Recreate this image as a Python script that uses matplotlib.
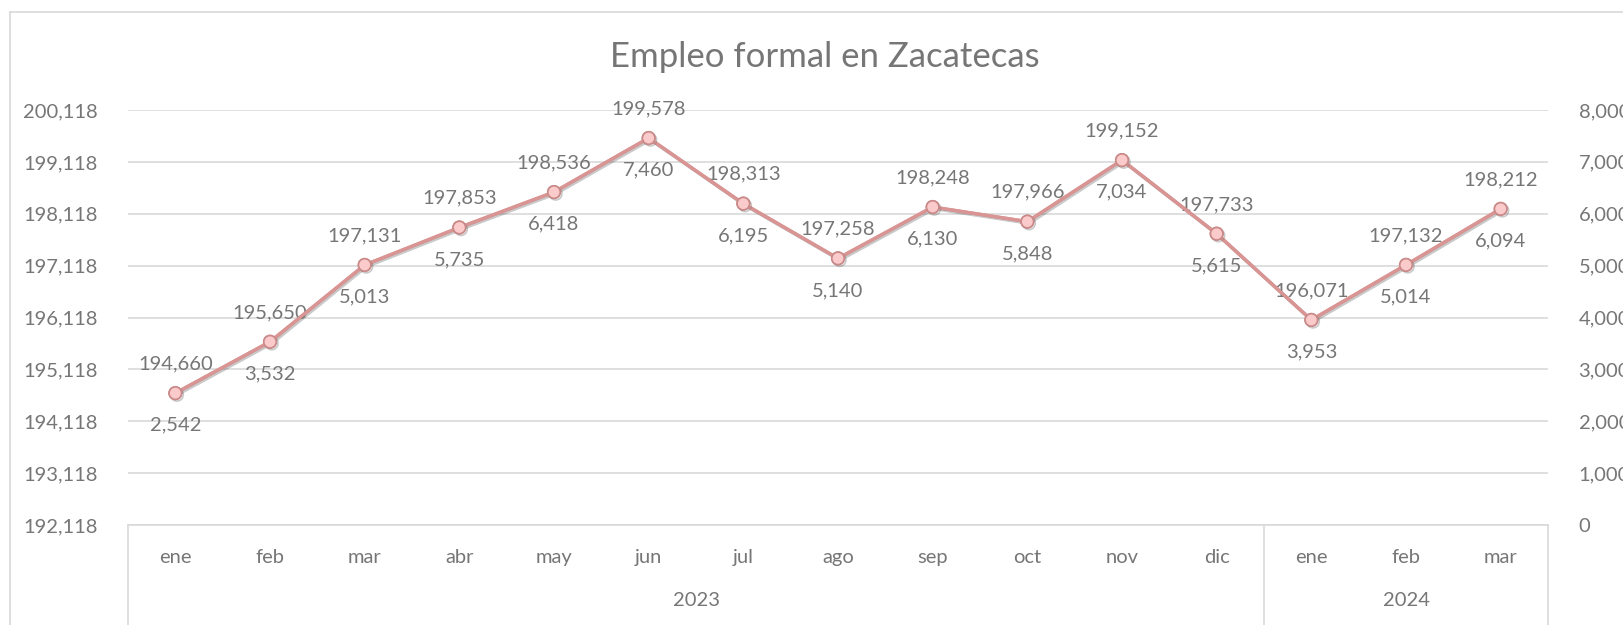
import matplotlib.pyplot as plt
import matplotlib.patheffects as pe
from matplotlib.lines import Line2D
import numpy as np

plt.rcParams['font.family'] = ['Lato', 'DejaVu Sans']

# Data
meses = ['ene', 'feb', 'mar', 'abr', 'may', 'jun', 'jul', 'ago', 'sep', 'oct', 'nov', 'dic',
         'ene', 'feb', 'mar']
anios = ['2023', '2024']
meses_por_anio = [12, 3]
empleo = [194660, 195650, 197131, 197853, 198536, 199578, 198313, 197258, 198248, 197966,
          199152, 197733, 196071, 197132, 198212]
variacion = [2542, 3532, 5013, 5735, 6418, 7460, 6195, 5140, 6130, 5848, 7034, 5615, 3953,
             5014, 6094]

gris = '#767676'
linea = '#d99594'
fs = 14.5

fig = plt.figure(figsize=(16.23, 6.25), dpi=100)
ax1 = fig.add_axes([128 / 1623, 1 - 525 / 625, 1420 / 1623, 415 / 625])
ax2 = ax1.twinx()

x = np.arange(len(meses))
ax1.set_xlim(-0.5, len(meses) - 0.5)
ax1.set_ylim(192118, 200118)
ax1.set_yticks(np.arange(192118, 200119, 1000))
ax1.yaxis.set_major_formatter(plt.FuncFormatter(lambda v, p: f'{int(v):,}'))
ax2.set_ylim(0, 8000)
ax2.set_yticks(np.arange(0, 8001, 1000))
ax2.yaxis.set_major_formatter(plt.FuncFormatter(lambda v, p: f'{int(v):,}'))

for a in (ax1, ax2):
    for s in a.spines.values():
        s.set_visible(False)
    a.tick_params(axis='y', length=0, labelsize=fs, labelcolor=gris, pad=22)
ax1.set_xticks(x)
ax1.set_xticklabels(meses)
ax1.tick_params(axis='x', length=0, labelsize=fs, labelcolor=gris, pad=17)
ax1.grid(axis='y', color='#d9d9d9', linewidth=1.2)
ax1.set_axisbelow(True)

# Bottom category box
ax1.spines['bottom'].set_visible(True)
ax1.spines['bottom'].set_color('#d9d9d9')
ax1.spines['bottom'].set_linewidth(1.2)
trans = ax1.get_xaxis_transform()
ybot = (525 - 625) / 415
bordes = [-0.5]
acum = -0.5
for n in meses_por_anio:
    acum += n
    bordes.append(acum)
for b in bordes:
    ax1.add_line(Line2D([b, b], [0, ybot], transform=trans, color='#d9d9d9',
                        linewidth=1.2, clip_on=False))
ini = -0.5
for anio, n in zip(anios, meses_por_anio):
    ax1.text(ini + n / 2, -75 / 415, anio, transform=trans, ha='center', va='center',
             fontsize=fs, color=gris)
    ini += n

# Lines
sombra = [pe.SimpleLineShadow(offset=(1.2, -1.2), alpha=0.15, shadow_color='#404040'),
          pe.Normal()]
estilo = dict(color=linea, linewidth=2.4, marker='o', markersize=9,
              markerfacecolor='#fbcaca', markeredgecolor='#c98a89', markeredgewidth=1.2,
              path_effects=sombra)
ax1.plot(x, empleo, **estilo)
ax2.plot(x, variacion, **estilo)

for xi, e, v in zip(x, empleo, variacion):
    ax1.annotate(f'{e:,}', (xi, e), xytext=(0, 15), textcoords='offset points',
                 ha='center', va='bottom', fontsize=fs, color=gris)
    ax2.annotate(f'{v:,}', (xi, v), xytext=(0, -17), textcoords='offset points',
                 ha='center', va='top', fontsize=fs, color=gris)

fig.text(825 / 1623, 1 - 57 / 625, 'Empleo formal en Zacatecas', ha='center', va='center',
         fontsize=25, color=gris)

# Chart border (cropped on the right and bottom)
fig.add_artist(Line2D([10 / 1623, 1], [1 - 12 / 625, 1 - 12 / 625], transform=fig.transFigure,
                      color='#d9d9d9', linewidth=1.2))
fig.add_artist(Line2D([10 / 1623, 10 / 1623], [0, 1 - 12 / 625], transform=fig.transFigure,
                      color='#d9d9d9', linewidth=1.2))

fig.savefig('out.png', dpi=100)
